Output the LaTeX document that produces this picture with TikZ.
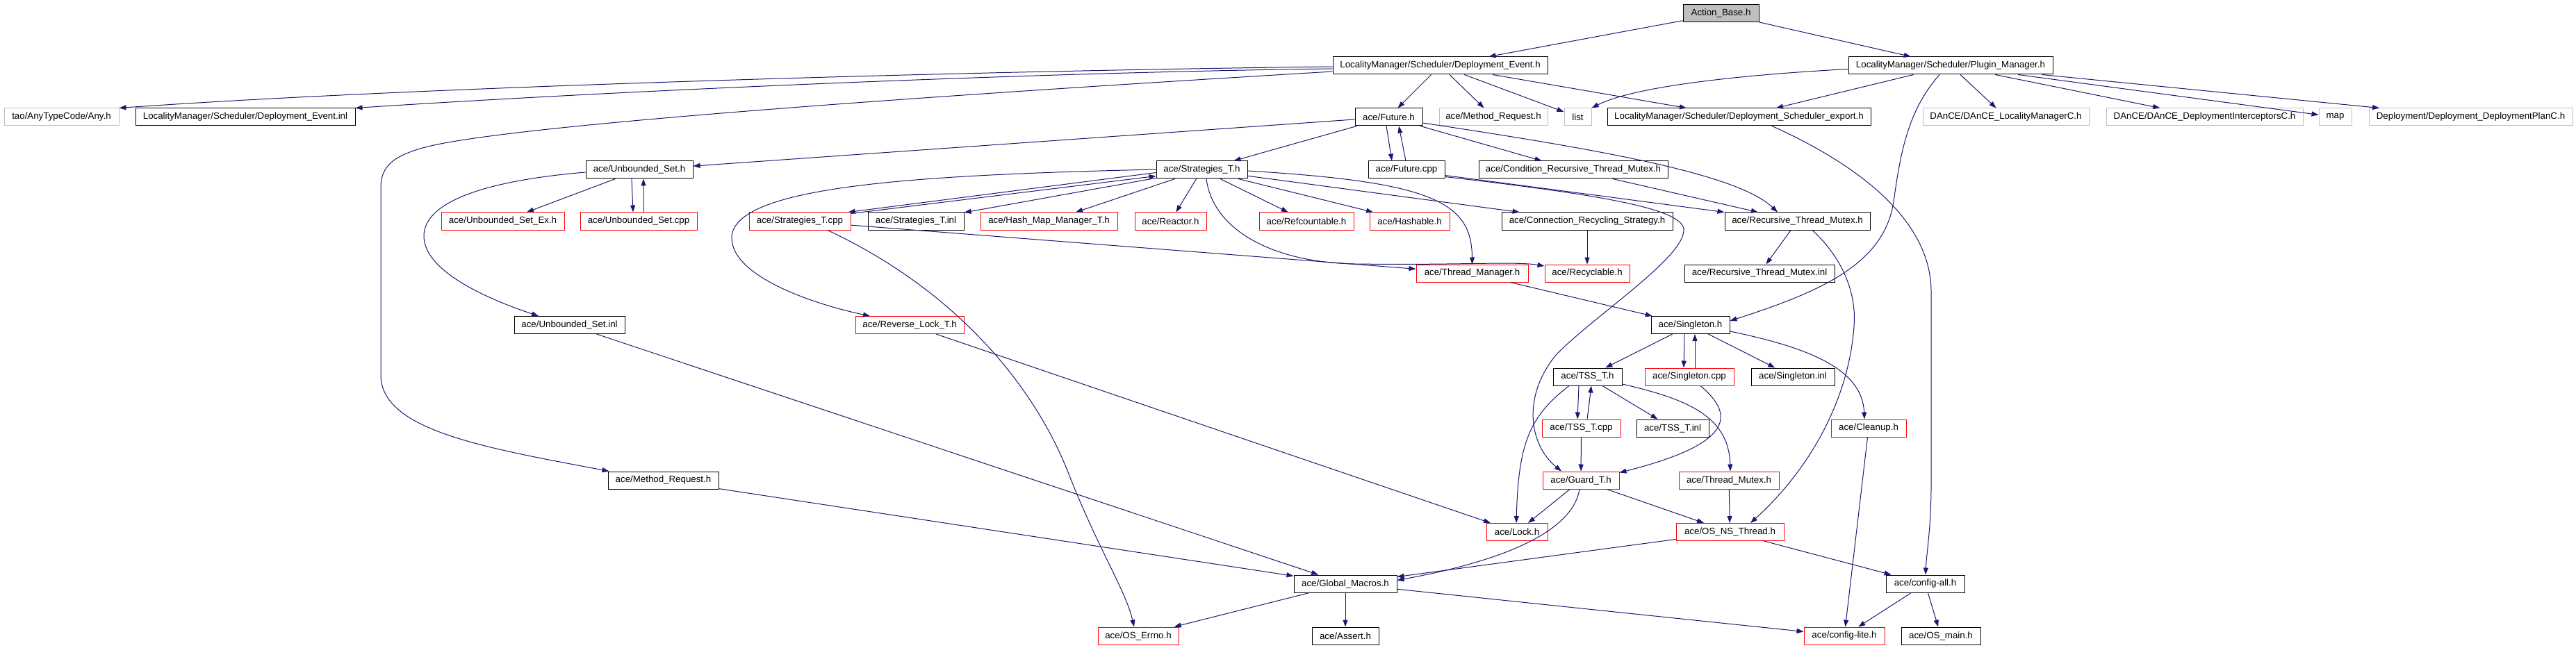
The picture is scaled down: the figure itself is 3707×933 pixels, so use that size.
\documentclass[tikz,border=0pt]{standalone}
\usepackage{fontspec}
\setmainfont{Liberation Sans}
\usetikzlibrary{arrows.meta,calc}
\definecolor{mblue}{HTML}{191970}
\definecolor{gborder}{HTML}{BFBFBF}
\begin{document}
\begin{tikzpicture}[x=1pt,y=-1pt,
  nb/.style={rectangle, draw, line width=1pt, inner sep=0pt, minimum height=25pt, font=\fontsize{13.3}{16}\selectfont, text=black},
  blk/.style={nb, draw=black},
  redb/.style={nb, draw=red},
  gry/.style={nb, draw=gborder},
  rootb/.style={nb, draw=black, fill=gborder},
  dep/.style={draw=mblue, line width=1pt, -{Triangle[length=10pt,width=7pt]}},
]
\useasboundingbox (0,0) rectangle (3707,933);
% row 0-1
\node[rootb, minimum width=109pt] (ab) at (2476.5,19.5) {Action\_Base.h};
\node[blk, minimum width=309pt] (de) at (2072.5,94.5) {LocalityManager/Scheduler/Deployment\_Event.h};
\node[blk, minimum width=294pt] (pm) at (2807,94.5) {LocalityManager/Scheduler/Plugin\_Manager.h};
% row 2
\node[gry, minimum width=165pt] (anyh) at (88.5,168.5) {tao/AnyTypeCode/Any.h};
\node[blk, minimum width=316pt] (deinl) at (353,168.5) {LocalityManager/Scheduler/Deployment\_Event.inl};
\node[blk, minimum width=97pt] (futh) at (1998.5,168.5) {ace/Future.h};
\node[gry, minimum width=156pt] (mrg) at (2149,168.5) {ace/Method\_Request.h};
\node[gry, minimum width=39pt] (list) at (2270.5,168.5) {list};
\node[blk, minimum width=379pt] (dse) at (2502.5,168.5) {LocalityManager/Scheduler/Deployment\_Scheduler\_export.h};
\node[gry, minimum width=239pt] (dlm) at (2886.5,168.5) {DAnCE/DAnCE\_LocalityManagerC.h};
\node[gry, minimum width=283pt] (ddi) at (3172.5,168.5) {DAnCE/DAnCE\_DeploymentInterceptorsC.h};
\node[gry, minimum width=47pt] (map) at (3360.5,168.5) {map};
\node[gry, minimum width=293pt] (ddp) at (3555.5,168.5) {Deployment/Deployment\_DeploymentPlanC.h};
% row 3
\node[blk, minimum width=154pt] (ush) at (920,244.5) {ace/Unbounded\_Set.h};
\node[blk, minimum width=131pt] (sth) at (1729.5,244.5) {ace/Strategies\_T.h};
\node[blk, minimum width=110pt] (fcpp) at (2024,244.5) {ace/Future.cpp};
\node[blk, minimum width=272pt] (crtm) at (2264,244.5) {ace/Condition\_Recursive\_Thread\_Mutex.h};
% row 4
\node[redb, minimum width=177pt] (usex) at (723.5,318.5) {ace/Unbounded\_Set\_Ex.h};
\node[redb, minimum width=168pt] (uscpp) at (919,318.5) {ace/Unbounded\_Set.cpp};
\node[redb, minimum width=146pt] (stcpp) at (1151,318.5) {ace/Strategies\_T.cpp};
\node[blk, minimum width=138pt] (stinl) at (1318,318.5) {ace/Strategies\_T.inl};
\node[redb, minimum width=197pt] (hmm) at (1509.5,318.5) {ace/Hash\_Map\_Manager\_T.h};
\node[redb, minimum width=103pt] (reac) at (1684.5,318.5) {ace/Reactor.h};
\node[redb, minimum width=136pt] (refc) at (1880,318.5) {ace/Refcountable.h};
\node[redb, minimum width=115pt] (hash) at (2028.5,318.5) {ace/Hashable.h};
\node[blk, minimum width=246pt] (crs) at (2284,318.5) {ace/Connection\_Recycling\_Strategy.h};
\node[blk, minimum width=209pt] (rtmh) at (2586.5,318.5) {ace/Recursive\_Thread\_Mutex.h};
% row 5
\node[redb, minimum width=161pt] (thm) at (2118.5,393.5) {ace/Thread\_Manager.h};
\node[redb, minimum width=122pt] (recy) at (2284,393.5) {ace/Recyclable.h};
\node[blk, minimum width=216pt] (rtminl) at (2532,393.5) {ace/Recursive\_Thread\_Mutex.inl};
% row 6
\node[blk, minimum width=159pt] (usinl) at (819.5,468) {ace/Unbounded\_Set.inl};
\node[redb, minimum width=156pt] (rlt) at (1309,468) {ace/Reverse\_Lock\_T.h};
\node[blk, minimum width=113pt] (sing) at (2432.5,468) {ace/Singleton.h};
% row 7
\node[blk, minimum width=99pt] (tssh) at (2284.5,542.5) {ace/TSS\_T.h};
\node[redb, minimum width=128pt] (scpp) at (2431,542.5) {ace/Singleton.cpp};
\node[blk, minimum width=120pt] (sinl) at (2580,542.5) {ace/Singleton.inl};
% row 8
\node[redb, minimum width=113pt] (tsscpp) at (2275.5,616.5) {ace/TSS\_T.cpp};
\node[blk, minimum width=104pt] (tssinl) at (2407,616.5) {ace/TSS\_T.inl};
\node[redb, minimum width=108pt] (clean) at (2689,616.5) {ace/Cleanup.h};
% row 9
\node[blk, minimum width=159pt] (mrh) at (954.5,691.5) {ace/Method\_Request.h};
\node[redb, minimum width=110pt] (guard) at (2275,691.5) {ace/Guard\_T.h};
\node[redb, minimum width=144pt] (thmx) at (2488,691.5) {ace/Thread\_Mutex.h};
% row 10
\node[redb, minimum width=88pt] (lock) at (2183,766) {ace/Lock.h};
\node[redb, minimum width=155pt] (osns) at (2489.5,766) {ace/OS\_NS\_Thread.h};
% row 11
\node[blk, minimum width=148pt] (gm) at (1936,840.5) {ace/Global\_Macros.h};
\node[blk, minimum width=113pt] (cfgall) at (2770.5,840.5) {ace/config-all.h};
% row 12
\node[redb, minimum width=116pt] (errno) at (1638,915.5) {ace/OS\_Errno.h};
\node[blk, minimum width=96pt] (assert) at (1936,915.5) {ace/Assert.h};
\node[redb, minimum width=116pt] (cfglite) at (2654,915.5) {ace/config-lite.h};
\node[blk, minimum width=114pt] (osmain) at (2793,915.5) {ace/OS\_main.h};

% edges
\draw[dep] (ab) -- (de);
\draw[dep] (ab) -- (pm);
\draw[dep] ($(de.west)+(0,1.5)$) .. controls (1400,102) and (600,125) .. (anyh.north east);
\draw[dep] ($(de.west)+(0,4.5)$) .. controls (1500,104) and (900,130) .. (deinl.north east);
\draw[dep] ($(de.west)+(0,8.5)$) .. controls (1300,140) and (750,180) .. (620,210) .. controls (565,223) and (548,240) .. (548,270) -- (548,540) .. controls (548,620) and (700,645) .. ($(mrh.north west)+(2,0)$);
\draw[dep] (de) -- (futh);
\draw[dep] (de) -- (mrg);
\draw[dep] (de) -- (list);
\draw[dep] (de) -- (dse);
\draw[dep] ($(pm.west)+(0,5)$) .. controls (2500,108) and (2350,125) .. (list.north east);
\draw[dep] (pm) -- (dse);
\draw[dep] ($(pm.south)+(-16,0)$) .. controls (2745,160) and (2735,220) .. (2725,290) .. controls (2712,380) and (2620,420) .. ($(sing.east)+(0,-6)$);
\draw[dep] (pm) -- (dlm);
\draw[dep] (pm) -- (ddi);
\draw[dep] (pm) -- (map);
\draw[dep] (pm) -- (ddp);

\draw[dep] (futh) -- (ush);
\draw[dep] (futh) -- (sth);
\draw[dep] ($(futh.south)+(-3.5,0)$) -- ($(fcpp.north)+(-21,0)$);
\draw[dep] ($(fcpp.north)+(-1,0)$) -- ($(futh.south)+(14.5,0)$);
\draw[dep] (futh) -- (crtm);
\draw[dep] ($(futh.east)+(0,8.5)$) .. controls (2300,215) and (2500,250) .. ($(rtmh.north)+(-28.5,0)$);
\draw[dep] ($(fcpp.east)+(0,8)$) -- (rtmh.north west);
\draw[dep] ($(fcpp.east)+(0,10)$) .. controls (2300,280) and (2420,300) .. (2423,330) .. controls (2425,370) and (2300,450) .. (2240,510) .. controls (2190,570) and (2200,640) .. ($(guard.north)+(-28,0)$);
\draw[dep] (crtm) -- (rtmh);

\draw[dep] (ush) -- (usex);
\draw[dep] ($(ush.south)+(-11,0)$) -- ($(uscpp.north)+(-8,0)$);
\draw[dep] ($(uscpp.north)+(7,0)$) -- ($(ush.south)+(6,0)$);
\draw[dep] ($(ush.west)+(0,3.5)$) .. controls (700,260) and (610,290) .. (610,340) .. controls (610,390) and (700,430) .. ($(usinl.north)+(-44.5,0)$);
\draw[dep] (usinl) -- (gm);

\draw[dep] ($(sth.west)+(0,4)$) -- ($(stcpp.north east)+(-4,0)$);
\draw[dep] ($(stcpp.north east)+(0,2)$) -- ($(sth.west)+(0,9)$);
\draw[dep] (sth) -- (stinl);
\draw[dep] (sth) -- (hmm);
\draw[dep] (sth) -- (reac);
\draw[dep] (sth) -- (refc);
\draw[dep] (sth) -- (hash);
\draw[dep] (sth) -- (crs);
\draw[dep] ($(sth.east)+(0,1.5)$) .. controls (2060,262) and (2118,290) .. (thm.north);
\draw[dep] ($(sth.south)+(6.5,0)$) .. controls (1745,330) and (1830,378) .. (1950,380) .. controls (2100,382) and (2180,376) .. ($(recy.west)+(0,-10.5)$);
\draw[dep] ($(sth.west)+(0,-0.5)$) .. controls (1300,252) and (1060,270) .. (1053,340) .. controls (1050,400) and (1180,440) .. ($(rlt.north)+(-57,0)$);

\draw[dep] (stcpp) -- (thm);
\draw[dep] ($(stcpp.south)+(40,0)$) .. controls (1380,420) and (1490,560) .. (1537,680) .. controls (1580,790) and (1620,850) .. ($(errno.north)+(-6,0)$);

\draw[dep] (thm) -- (sing);
\draw[dep] (crs) -- (recy);
\draw[dep] (rtmh) -- (rtminl);
\draw[dep] ($(rtmh.south)+(21.5,0)$) .. controls (2650,370) and (2672,420) .. (2668,470) .. controls (2660,580) and (2600,680) .. ($(osns.north)+(29.5,0)$);

\draw[dep] (sing) -- (tssh);
\draw[dep] ($(sing.south)+(-8.5,0)$) -- ($(scpp.north)+(-8,0)$);
\draw[dep] ($(scpp.north)+(8,0)$) -- ($(sing.south)+(6.5,0)$);
\draw[dep] (sing) -- (sinl);
\draw[dep] ($(sing.east)+(0,9)$) .. controls (2600,500) and (2680,530) .. ($(clean.north)+(-6,0)$);
\draw[dep] ($(scpp.south)+(16,0)$) .. controls (2500,600) and (2490,640) .. ($(guard.north east)+(0,2)$);

\draw[dep] ($(tssh.south)+(-12.5,0)$) -- ($(tsscpp.north)+(-5.5,0)$);
\draw[dep] ($(tsscpp.north)+(8.5,0)$) -- ($(tssh.south)+(5.5,0)$);
\draw[dep] (tssh) -- (tssinl);
\draw[dep] ($(tssh.south)+(-26.5,0)$) .. controls (2200,600) and (2185,640) .. ($(lock.north)+(-1,0)$);
\draw[dep] ($(tssh.east)+(0,10.5)$) .. controls (2430,575) and (2488,600) .. ($(thmx.north)+(2,0)$);
\draw[dep] (tsscpp) -- (guard);
\draw[dep] (guard) -- (lock);
\draw[dep] (guard) -- (osns);
\draw[dep] ($(guard.south)+(-2,0)$) .. controls (2262,770) and (2150,810) .. ($(gm.east)+(0,-5)$);
\draw[dep] (thmx) -- (osns);
\draw[dep] (osns) -- (gm);
\draw[dep] (osns) -- (cfgall);
\draw[dep] ($(dse.south)+(47.5,0)$) .. controls (2680,240) and (2779,320) .. (2779,420) -- (2779,700) .. controls (2779,760) and (2772,800) .. ($(cfgall.north)+(0.5,0)$);
\draw[dep] (clean) -- (cfglite);
\draw[dep] (cfgall) -- (cfglite);
\draw[dep] (cfgall) -- (osmain);
\draw[dep] (gm) -- (assert);
\draw[dep] (gm) -- (cfglite);
\draw[dep] (gm) -- (errno);
\draw[dep] (mrh) -- (gm);
\draw[dep] (rlt) -- (lock);
\end{tikzpicture}
\end{document}
